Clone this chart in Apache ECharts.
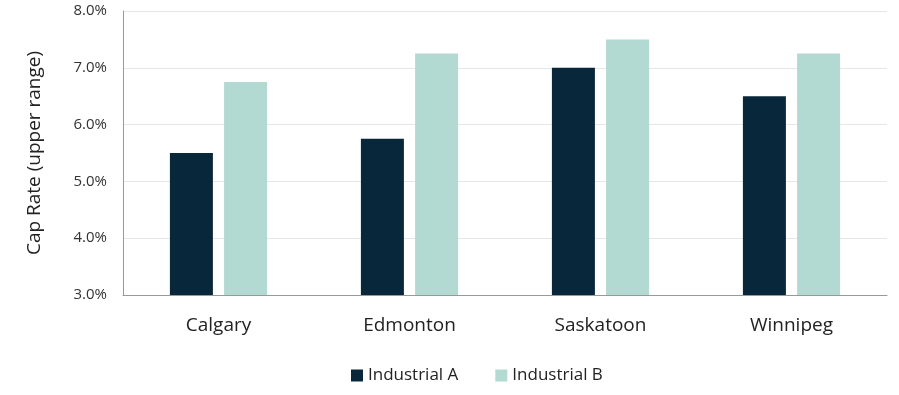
<!DOCTYPE html>
<html><head><meta charset="utf-8">
<script src="https://cdn.jsdelivr.net/npm/echarts@6/dist/echarts.min.js"></script>
<style>html,body{margin:0;padding:0;background:#fff}#c{width:899px;height:395px}</style>
</head><body><div id="c"></div>
<script>
const categories = ['Calgary', 'Edmonton', 'Saskatoon', 'Winnipeg'];
const industrialA = [5.5, 5.75, 7.0, 6.5];
const industrialB = [6.75, 7.25, 7.5, 7.25];
const seriesNames = ['Industrial A', 'Industrial B'];
const FONT = '"Open Sans", "Noto Sans", sans-serif';
const chart = echarts.init(document.getElementById('c'));
chart.setOption({
  animation: false,
  textStyle: { fontFamily: FONT },
  grid: { left: 123, right: 12, top: 11, bottom: 100 },
  legend: {
    bottom: 6, left: 346, itemWidth: 12, itemHeight: 12, itemGap: 37,
    icon: 'rect',
    textStyle: { fontSize: 17, color: '#222', fontFamily: FONT },
    data: seriesNames
  },
  xAxis: {
    type: 'category', data: categories,
    axisLine: { lineStyle: { color: '#999', width: 1 } },
    axisTick: { show: false },
    axisLabel: { fontSize: 19, color: '#222', margin: 21, fontFamily: FONT }
  },
  yAxis: {
    type: 'value', min: 3, max: 8, interval: 1,
    name: 'Cap Rate (upper range)', nameLocation: 'middle', nameGap: 79,
    nameTextStyle: { fontSize: 19, color: '#222', fontFamily: FONT },
    axisLine: { show: true, lineStyle: { color: '#999' } },
    axisTick: { show: false },
    splitLine: { lineStyle: { color: '#e6e6e6' } },
    axisLabel: { fontSize: 15, color: '#333', margin: 16, fontFamily: FONT, formatter: v => v.toFixed(1) + '%' }
  },
  series: [
    { name: seriesNames[0], type: 'bar', data: industrialA, barWidth: 43, barGap: '26%', itemStyle: { color: '#08273B' } },
    { name: seriesNames[1], type: 'bar', data: industrialB, barWidth: 43, itemStyle: { color: '#B2DAD2' } }
  ]
});
</script></body></html>
